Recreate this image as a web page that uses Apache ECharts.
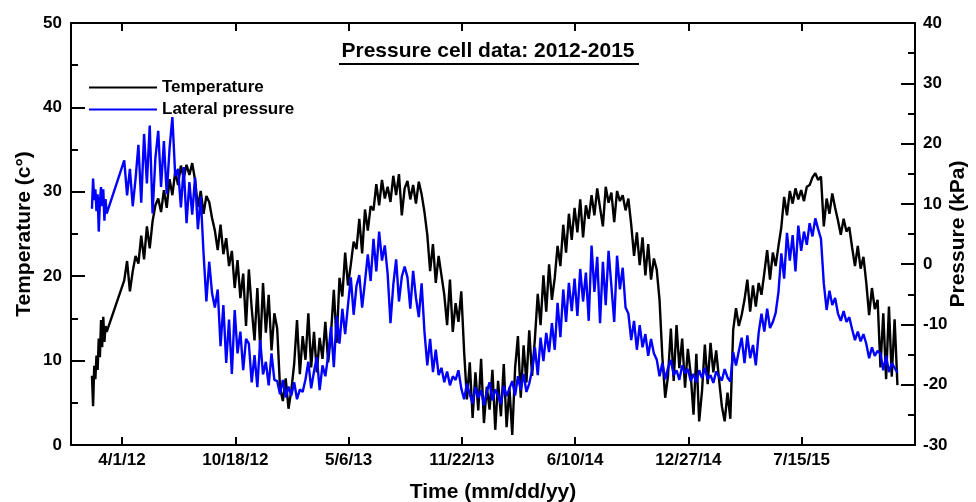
<!DOCTYPE html>
<html lang="en">
<head>
	<meta charset="UTF-8">
	<title>Pressure cell data</title>
	<style type="text/css">
	body,html{
		width: 100%;
		height: 100%;
		margin: 0;
		padding: 0;
		background: #fff;
	}
	#container{
		width: 976px;
		height: 502px;
	}
	</style>
</head>
<body>
<div id="container"></div>
<script type="text/javascript" src="https://cdn.jsdelivr.net/npm/echarts/dist/echarts.min.js"></script>
<script type="text/javascript">
	// x values are days counted from 4/1/12
	var tickDays = [0, 200, 400, 600, 800, 1000, 1200];

	// first weeks of 2012, before the logger gap
	var earlyDays = [-53, -51, -49, -47, -45, -43, -41, -39, -37, -35, -33, -31, -29, -27];
	var earlyTemp = [8.2, 4.6, 9.4, 7.8, 10.6, 8.9, 12.6, 10.4, 14.8, 11.6, 15.2, 12.2, 14.1, 13.4];
	var earlyPress = [9.2, 14.2, 10.6, 12.4, 8.8, 11.6, 5.4, 10.2, 12.8, 9.6, 12.4, 7.2, 10.8, 8.4];

	// main record, one reading every 5 days from day 4
	var mainStart = 4;
	var mainStep = 5;
	var temperature = [
		19.5, 21.8, 18.2, 20.6, 22.4, 21.5, 24.8, 22, 25.9, 23.3,
		26.5, 28.4, 29.2, 27.6, 30.2, 28.1, 31.5, 29.6, 32.4, 30.8,
		33.1, 31.6, 33.2, 32, 33.4, 31.4, 28.2, 30.1, 27.4, 29.5,
		28.8, 26.9, 25.4, 23.1, 26.1, 22.6, 24.5, 21.2, 23, 18.6,
		21.9, 17.4, 20.3, 14.1, 20.8, 16.2, 12.4, 18.6, 11.5, 19.2,
		13.3, 17.8, 11.2, 15.6, 13.8, 6.8, 5.2, 7.9, 4.3, 6.5,
		9.6, 14.8, 8.4, 12.9, 10.1, 15.6, 9.2, 13.4, 8.6, 12.7,
		10.2, 14.6, 9.8, 13.2, 18.4, 12.1, 19.8, 17.6, 22.8, 18.9,
		21.4, 24.1, 23.2, 26.8, 22.7, 27.9, 25.4, 28.3, 27.8, 30.9,
		28.4, 31.4, 29.2, 30.6, 28.8, 31.9, 29.6, 32.1, 27.2, 30.4,
		31.3, 29.1, 30.8, 28.6, 31.2, 29.7, 27.6, 24.9, 20.6, 23.8,
		19.2, 22.4, 20.1, 17.8, 14.2, 19.6, 13.4, 16.8, 14.6, 18.2,
		11.1, 5.4, 9.8, 3.2, 8.6, 4.1, 10.2, 2.6, 6.9, 4.2,
		8.9, 1.8, 7.6, 3.4, 9.6, 2.1, 6.8, 1.2, 9.1, 12.9,
		5.6, 11.8, 7.4, 13.6, 8.2, 12.6, 17.9, 14.2, 20.1, 15.8,
		21.4, 17.2, 19.8, 23.6, 21.2, 26.1, 22.8, 27.4, 24.3, 28.1,
		25.2, 29.1, 24.6, 28.4, 26.8, 29.6, 27.2, 30.4, 28.1, 25.9,
		30.6, 28.7, 29.9, 26.4, 30.1, 28.9, 29.6, 27.8, 29.2, 26.1,
		22.4, 25.2, 21.3, 24.6, 20.1, 23.8, 19.6, 22.1, 20.8, 17.2,
		10.4, 5.6, 8.2, 13.8, 7.6, 14.2, 9.1, 12.6, 6.8, 11.4,
		8.4, 3.6, 10.8, 2.8, 6.4, 11.9, 7.2, 12.1, 8.6, 11.2,
		7.8, 4.6, 2.8, 6.2, 3.1, 13.6, 16.2, 14.1, 15.4, 17.2,
		19.6, 15.8, 18.9, 16.4, 19.2, 17.8, 20.4, 23.1, 19.6, 22.8,
		21.2, 23.6, 25.8, 29.4, 27.2, 30.1, 28.6, 30.4, 29.1, 30.2,
		28.9, 30.6, 30.8, 31.7, 32.2, 31.4, 31.8, 25.9, 29.2, 27.4,
		29.8, 28.1, 26.6, 24.9, 26.8, 25.3, 25.8, 23.4, 21.2, 23.6,
		20.9, 22.3, 19.2, 15.4, 18.6, 16.1, 17.2, 9.2, 15.6, 7.8,
		16.4, 8.1, 14.9, 7.1
	];
	var pressure = [
		17.2, 11.4, 15.8, 9.6, 14.2, 19.8, 10.2, 21.6, 13.4, 23,
		8.4, 17.6, 22.1, 12.8, 20.4, 11.6, 19.2, 24.4, 14.6, 15.8,
		9.4, 16.1, 6.8, 13.6, 8.2, 14.4, 5.8, 11.2, 1.8, -6.2,
		0.4, -4.8, -7.2, -4.2, -13.6, -6.8, -16.4, -9.2, -18.2, -7.6,
		-14.8, -11.2, -17.6, -12.4, -13.2, -19.6, -15.1, -20.4, -12.6, -18.3,
		-16.2, -20.1, -14.8, -19.2, -19.4, -21.6, -19.2, -22.1, -20.3, -21.8,
		-19.6, -22.4, -20.8, -21.2, -19.1, -16.2, -20.6, -17.8, -15.4, -20.9,
		-16.8, -18.6, -15.2, -10.4, -17.1, -8.6, -13.2, -7.4, -11.6, -6.8,
		-2.2, -8.4, -3.6, -1.8, -7.2, -2.9, 1.6, -2.8, 4.2, -1.2,
		5.4, 0.6, 3.1, -1.6, -9.8, -3.4, 0.8, -6.2, -2.1, -0.4,
		-2.2, -7.4, -1.1, -5.6, -8.8, -3.2, -11.2, -16.8, -12.4, -17.9,
		-14.2, -18.4, -17.2, -19.6, -17.8, -20.1, -18.6, -19.2, -17.6, -20.6,
		-22.4, -19.8, -21.6, -23.1, -20.4, -22.2, -20.9, -23.4, -21.2, -19.6,
		-22.6, -20.8, -21.8, -23.2, -20.2, -21.9, -20.6, -19.4, -21.8, -18.6,
		-20.9, -18.2, -21.2, -19.8, -17.6, -13.8, -18.4, -12.2, -16.1, -11.4,
		-14.6, -9.8, -14.2, -6.4, -12.1, -4.2, -9.6, -3.1, -7.8, -2.4,
		-8.6, -0.8, -6.2, -1.4, -9.4, 3.1, -4.6, 1.2, -9.8, 0.4,
		-6.8, 2.2, -3.6, -9.6, 1.4, -4.2, -0.6, -7.2, -8.2, -12.6,
		-9.4, -14.2, -10.1, -13.8, -11.6, -15.2, -12.4, -14.8, -15.8, -18.6,
		-16.4, -19.1, -17.2, -15.9, -18.4, -17.6, -19.2, -16.8, -18.1, -17.4,
		-19.4, -18.2, -19.6, -17.6, -18.9, -17.2, -19.1, -18.4, -19.7, -17.8,
		-18.6, -19.3, -17.4, -18.8, -19.5, -14.6, -16.8, -14.4, -12.2, -16.4,
		-11.8, -15.6, -13.4, -16.8, -11.4, -8.2, -11.2, -7.4, -10.6, -9.6,
		-8.1, -4.6, 1.8, -2.4, 5.2, 0.6, 4.8, -1.2, 6.4, 2.2,
		5.4, 3.2, 6.8, 4.6, 7.6, 5.8, 4.2, -3.2, -7.6, -4.4,
		-6.8, -5.6, -8.2, -9.4, -7.8, -9.6, -8.8, -10.8, -12.6, -11.2,
		-12.8, -11.6, -13.2, -15.6, -13.8, -15.2, -14.4, -14.8, -17.6, -15.2,
		-17.9, -16.4, -17.2, -18
	];

	function toPairs(days, early, main) {
		var out = [];
		for (var i = 0; i < early.length; i++) out.push([days[i], early[i]]);
		for (var j = 0; j < main.length; j++) out.push([mainStart + j * mainStep, main[j]]);
		return out;
	}

	// day offset -> m/d/yy
	function dayLabel(d) {
		var t = new Date(Date.UTC(2012, 3, 1) + d * 86400000);
		return (t.getUTCMonth() + 1) + '/' + t.getUTCDate() + '/' + String(t.getUTCFullYear()).slice(2);
	}

	var font = 'Liberation Sans, Arial, sans-serif';
	var lbl = { color: '#000', fontFamily: font, fontWeight: 'bold', fontSize: 17 };
	var nameStyle = { color: '#000', fontFamily: font, fontWeight: 'bold', fontSize: 21 };
	var axLine = { show: true, onZero: false, lineStyle: { color: '#000', width: 2 } };

	var option = {
		backgroundColor: '#fff',
		animation: false,
		title: {
			text: 'Pressure cell data: 2012-2015',
			left: 'center',
			top: 41,
			padding: 0,
			textStyle: { color: '#000', fontFamily: font, fontWeight: 'bold', fontSize: 21 }
		},
		graphic: [{
			type: 'line',
			shape: { x1: 339, y1: 64, x2: 639, y2: 64 },
			style: { stroke: '#000', lineWidth: 2 }
		}],
		legend: {
			orient: 'vertical',
			left: 89,
			top: 79,
			padding: 0,
			icon: 'rect',
			itemWidth: 68,
			itemHeight: 2,
			itemGap: 5,
			textStyle: { color: '#000', fontFamily: font, fontWeight: 'bold', fontSize: 17 },
			data: ['Temperature', 'Lateral pressure']
		},
		grid: { left: 71, right: 61, top: 23, bottom: 57, outerBoundsMode: 'none', containLabel: false },
		xAxis: [{
			type: 'value',
			min: -90,
			max: 1400,
			name: 'Time (mm/dd/yy)',
			nameLocation: 'middle',
			nameGap: 37,
			nameMoveOverlap: false,
			nameTextStyle: nameStyle,
			axisLine: axLine,
			axisTick: { inside: true, length: 8, customValues: tickDays, lineStyle: { color: '#000', width: 2 } },
			axisLabel: Object.assign({ margin: 7, customValues: tickDays, formatter: dayLabel }, lbl),
			splitLine: { show: false }
		}, {
			type: 'value',
			position: 'top',
			min: -90,
			max: 1400,
			axisLine: axLine,
			axisTick: { inside: true, length: 8, customValues: tickDays, lineStyle: { color: '#000', width: 2 } },
			axisLabel: { show: false, customValues: tickDays },
			splitLine: { show: false }
		}],
		yAxis: [{
			type: 'value',
			min: 0,
			max: 50,
			interval: 10,
			name: 'Temperature (c°)',
			nameLocation: 'middle',
			nameRotate: 90,
			nameGap: 36,
			nameMoveOverlap: false,
			nameTextStyle: nameStyle,
			axisLine: axLine,
			axisTick: { inside: true, length: 14, lineStyle: { color: '#000', width: 2 } },
			minorTick: { show: true, splitNumber: 2, length: 7, lineStyle: { color: '#000', width: 2 } },
			axisLabel: Object.assign({ margin: 9 }, lbl),
			splitLine: { show: false }
		}, {
			type: 'value',
			position: 'right',
			min: -30,
			max: 40,
			interval: 10,
			name: 'Pressure (kPa)',
			nameLocation: 'middle',
			nameRotate: 90,
			nameGap: 33,
			nameMoveOverlap: false,
			nameTextStyle: nameStyle,
			axisLine: axLine,
			axisTick: { inside: true, length: 14, lineStyle: { color: '#000', width: 2 } },
			minorTick: { show: true, splitNumber: 2, length: 7, lineStyle: { color: '#000', width: 2 } },
			axisLabel: Object.assign({ margin: 8 }, lbl),
			splitLine: { show: false }
		}],
		series: [{
			name: 'Temperature',
			type: 'line',
			yAxisIndex: 0,
			symbol: 'none',
			color: '#000',
			lineStyle: { color: '#000', width: 2.4 },
			data: toPairs(earlyDays, earlyTemp, temperature)
		}, {
			name: 'Lateral pressure',
			type: 'line',
			yAxisIndex: 1,
			symbol: 'none',
			color: '#0000ff',
			lineStyle: { color: '#0000ff', width: 2.4 },
			data: toPairs(earlyDays, earlyPress, pressure)
		}]
	};

	var chart = echarts.init(document.getElementById('container'));
	chart.setOption(option);
</script>
</body>
</html>
